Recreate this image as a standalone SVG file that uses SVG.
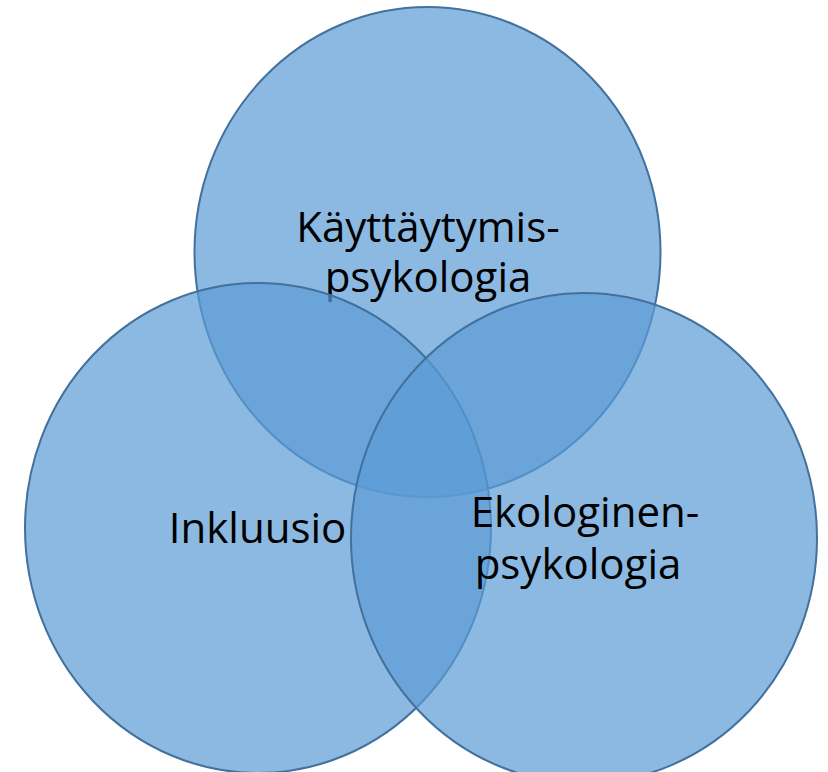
<svg xmlns="http://www.w3.org/2000/svg" width="828" height="772" viewBox="0 0 828 772">
<style>
.c{fill:#5B9BD5;fill-opacity:0.7;stroke:#41719C;stroke-width:2}
.t{font-family:"Open Sans","Liberation Sans",sans-serif;font-size:42px;fill:#000;text-anchor:middle}
</style>
<rect width="828" height="772" fill="#fff"/>
<g id="node-kayttaytymis">
<ellipse class="c" cx="427.5" cy="252" rx="233" ry="245"/>
<text class="t" x="428" y="242">Käyttäytymis-</text>
<text class="t" x="428" y="292">psykologia</text>
</g>
<g id="node-inkluusio">
<ellipse class="c" cx="258" cy="528" rx="233" ry="245"/>
<text class="t" x="257.5" y="543">Inkluusio</text>
</g>
<g id="node-ekologinen">
<ellipse class="c" cx="584" cy="538" rx="233" ry="245"/>
<text class="t" x="585" y="527">Ekologinen-</text>
<text class="t" x="578" y="579">psykologia</text>
</g>
<g id="connectors"/>
</svg>
